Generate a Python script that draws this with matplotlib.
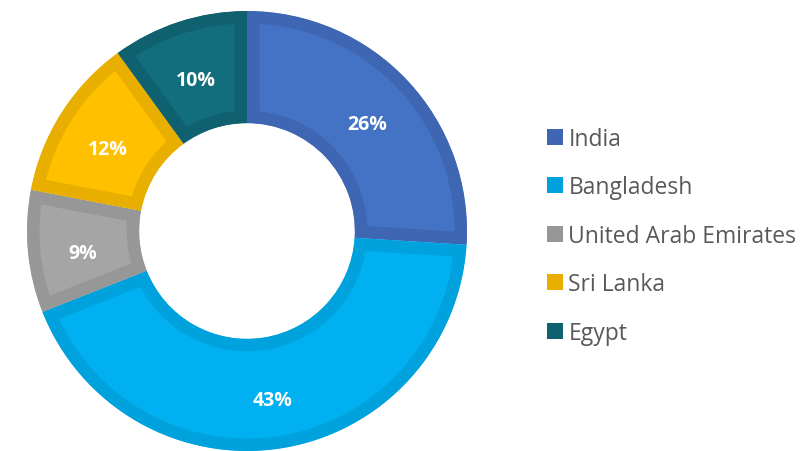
import matplotlib
matplotlib.use("Agg")
import matplotlib.pyplot as plt
from matplotlib.patches import Patch
from matplotlib.transforms import ScaledTranslation

countries = ["India", "Bangladesh", "United Arab Emirates", "Sri Lanka", "Egypt"]
shares = [26, 43, 9, 12, 10]
fill_colors = ["#4472C4", "#00B0F0", "#A5A5A5", "#FFC000", "#126E7C"]
edge_colors = ["#3F66B2", "#00A2DD", "#979797", "#E8AE00", "#10616F"]

plt.rcParams["font.family"] = ["Open Sans", "DejaVu Sans"]

fig = plt.figure(figsize=(8.03, 4.52), dpi=100)
W, H = 803, 452
ax = fig.add_axes([27 / W, 0 / H, 440 / W, 440 / H])

wedges, texts = ax.pie(
    shares, colors=fill_colors, startangle=90, counterclock=False,
    radius=1, wedgeprops=dict(width=0.51),
    labels=[f"{v}%" for v in shares], labeldistance=0.75,
    textprops=dict(color="white", fontsize=14, fontweight="bold",
                   ha="center", va="center"),
)

# nudge labels down a little (text bbox includes descent)
shift = ScaledTranslation(0, -6 / 100, fig.dpi_scale_trans)
for t in texts:
    t.set_transform(t.get_transform() + shift)

# thick inner border, clipped to each wedge
for w, ec in zip(wedges, edge_colors):
    w.set_edgecolor(ec)
    w.set_linewidth(18)
    w.set_clip_on(True)
    w.set_clip_path(w)

ax.set_xlim(-1, 1)
ax.set_ylim(-1, 1)
ax.set_aspect("equal")
ax.axis("off")

handles = [Patch(facecolor=c, edgecolor="none") for c in edge_colors]
fig.legend(handles, countries, loc="upper left",
           bbox_to_anchor=(526 / W, 1 - 107 / H), frameon=False,
           fontsize=16.5, labelcolor="#595959", handlelength=0.7,
           handleheight=0.7, handletextpad=0.25, labelspacing=1.07)

fig.savefig("out.png", dpi=100)
